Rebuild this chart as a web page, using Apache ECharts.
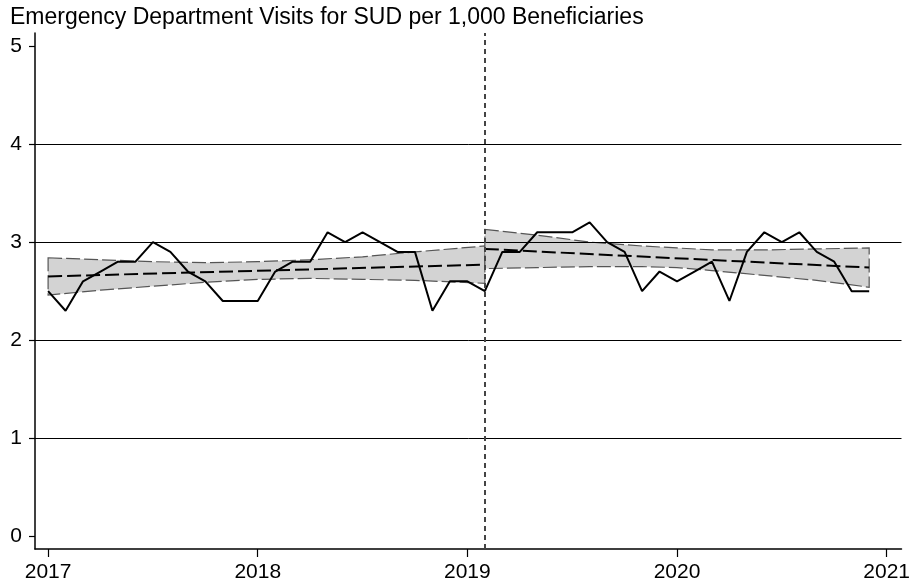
<!DOCTYPE html>
<html><head><meta charset="utf-8">
<script src="https://cdn.jsdelivr.net/npm/echarts@6/dist/echarts.min.js"></script>
<style>html,body{margin:0;padding:0;background:#fff}#c{width:913px;height:587px}</style>
</head><body><div id="c"></div>
<script>
const titleText = 'Emergency Department Visits for SUD per 1,000 Beneficiaries';
const yearLabels = ['2017', '2018', '2019', '2020', '2021'];
const yearTickMonths = [0, 12, 24, 36, 48];
const yTicks = [0, 1, 2, 3, 4, 5];
const gridValues = [1, 2, 3, 4];
const policyMonth = 25;

// monthly values, Jan 2017 .. Dec 2020
const visits = [
  2.5, 2.3, 2.6, 2.7, 2.8, 2.8, 3.0, 2.9, 2.7, 2.6, 2.4, 2.4,
  2.4, 2.7, 2.8, 2.8, 3.1, 3.0, 3.1, 3.0, 2.9, 2.9, 2.3, 2.6,
  2.6, 2.5, 2.9, 2.9, 3.1, 3.1, 3.1, 3.2, 3.0, 2.9, 2.5, 2.7,
  2.6, 2.7, 2.8, 2.4, 2.9, 3.1, 3.0, 3.1, 2.9, 2.8, 2.5, 2.5
];

// pre-period fitted trend and confidence band
const preFitMonths = [0, 25];
const preFit = [2.65, 2.77];
const preBandMonths = [0, 3, 6, 9, 12, 15, 18, 21, 25];
const preUpper = [2.84, 2.82, 2.80, 2.79, 2.80, 2.82, 2.85, 2.90, 2.96];
const preLower = [2.46, 2.51, 2.55, 2.59, 2.62, 2.63, 2.62, 2.61, 2.58];

// post-period fitted trend and confidence band
const postFitMonths = [25, 47];
const postFit = [2.93, 2.74];
const postBandMonths = [25, 28, 31, 34, 36, 38, 41, 44, 47];
const postUpper = [3.13, 3.07, 3.00, 2.96, 2.94, 2.92, 2.92, 2.93, 2.94];
const postLower = [2.73, 2.74, 2.75, 2.75, 2.74, 2.71, 2.66, 2.61, 2.54];

const FONT = '"Liberation Sans", Arial, Helvetica, sans-serif';

function bandSeries(months, upper, lower) {
  return {
    type: 'custom',
    z: 2,
    silent: true,
    data: [[months[0], upper[0]]],
    encode: { x: 0, y: 1 },
    renderItem: function (params, api) {
      const pts = [];
      for (let i = 0; i < months.length; i++) pts.push(api.coord([months[i], upper[i]]));
      for (let i = months.length - 1; i >= 0; i--) pts.push(api.coord([months[i], lower[i]]));
      return {
        type: 'polygon',
        shape: { points: pts },
        style: { fill: '#d3d3d3', stroke: '#555', lineWidth: 1.2, lineDash: [14, 4] }
      };
    }
  };
}
function fitSeries(months, vals) {
  return {
    type: 'line', z: 3, silent: true, symbol: 'none',
    data: months.map((m, i) => [m, vals[i]]),
    lineStyle: { color: '#000', width: 2, type: [14, 5] }
  };
}

const chart = echarts.init(document.getElementById('c'), null, { renderer: 'canvas' });
chart.setOption({
  animation: false,
  backgroundColor: '#fff',
  title: {
    text: titleText, left: 10, top: 6, padding: 0,
    textStyle: { fontFamily: FONT, fontSize: 23, fontWeight: 'normal', color: '#000' }
  },
  grid: { left: 35, right: 10, top: 33, bottom: 38 },
  xAxis: {
    type: 'value', min: -0.75, max: 48.85,
    axisLine: { show: true, onZero: false, lineStyle: { color: '#000', width: 1.5 } },
    axisTick: { show: true, length: 8, lineStyle: { color: '#000', width: 1.2 }, customValues: yearTickMonths },
    axisLabel: {
      customValues: yearTickMonths, margin: 13,
      formatter: v => yearLabels[yearTickMonths.indexOf(v)],
      fontFamily: FONT, fontSize: 21, color: '#000'
    },
    splitLine: { show: false }
  },
  yAxis: {
    type: 'value', min: -0.127, max: 5.13,
    axisLine: { show: true, onZero: false, lineStyle: { color: '#000', width: 1.5 } },
    axisTick: { show: true, length: 6, lineStyle: { color: '#000', width: 1.2 }, customValues: yTicks },
    axisLabel: {
      customValues: yTicks, margin: 13,
      fontFamily: FONT, fontSize: 21, color: '#000'
    },
    splitLine: { show: false }
  },
  series: [
    {
      type: 'line', z: 1, silent: true, data: [], symbol: 'none',
      markLine: {
        silent: true, symbol: 'none', animation: false,
        label: { show: false },
        data: gridValues.map(v => ({ yAxis: v, lineStyle: { color: '#000', width: 1, type: 'solid' } }))
          .concat([{ xAxis: policyMonth, lineStyle: { color: '#444', width: 2, type: [5, 4] } }])
      }
    },
    bandSeries(preBandMonths, preUpper, preLower),
    bandSeries(postBandMonths, postUpper, postLower),
    fitSeries(preFitMonths, preFit),
    fitSeries(postFitMonths, postFit),
    {
      type: 'line', z: 4, silent: true, symbol: 'none',
      data: visits.map((v, i) => [i, v]),
      lineStyle: { color: '#000', width: 2 }
    }
  ]
});
</script></body></html>
